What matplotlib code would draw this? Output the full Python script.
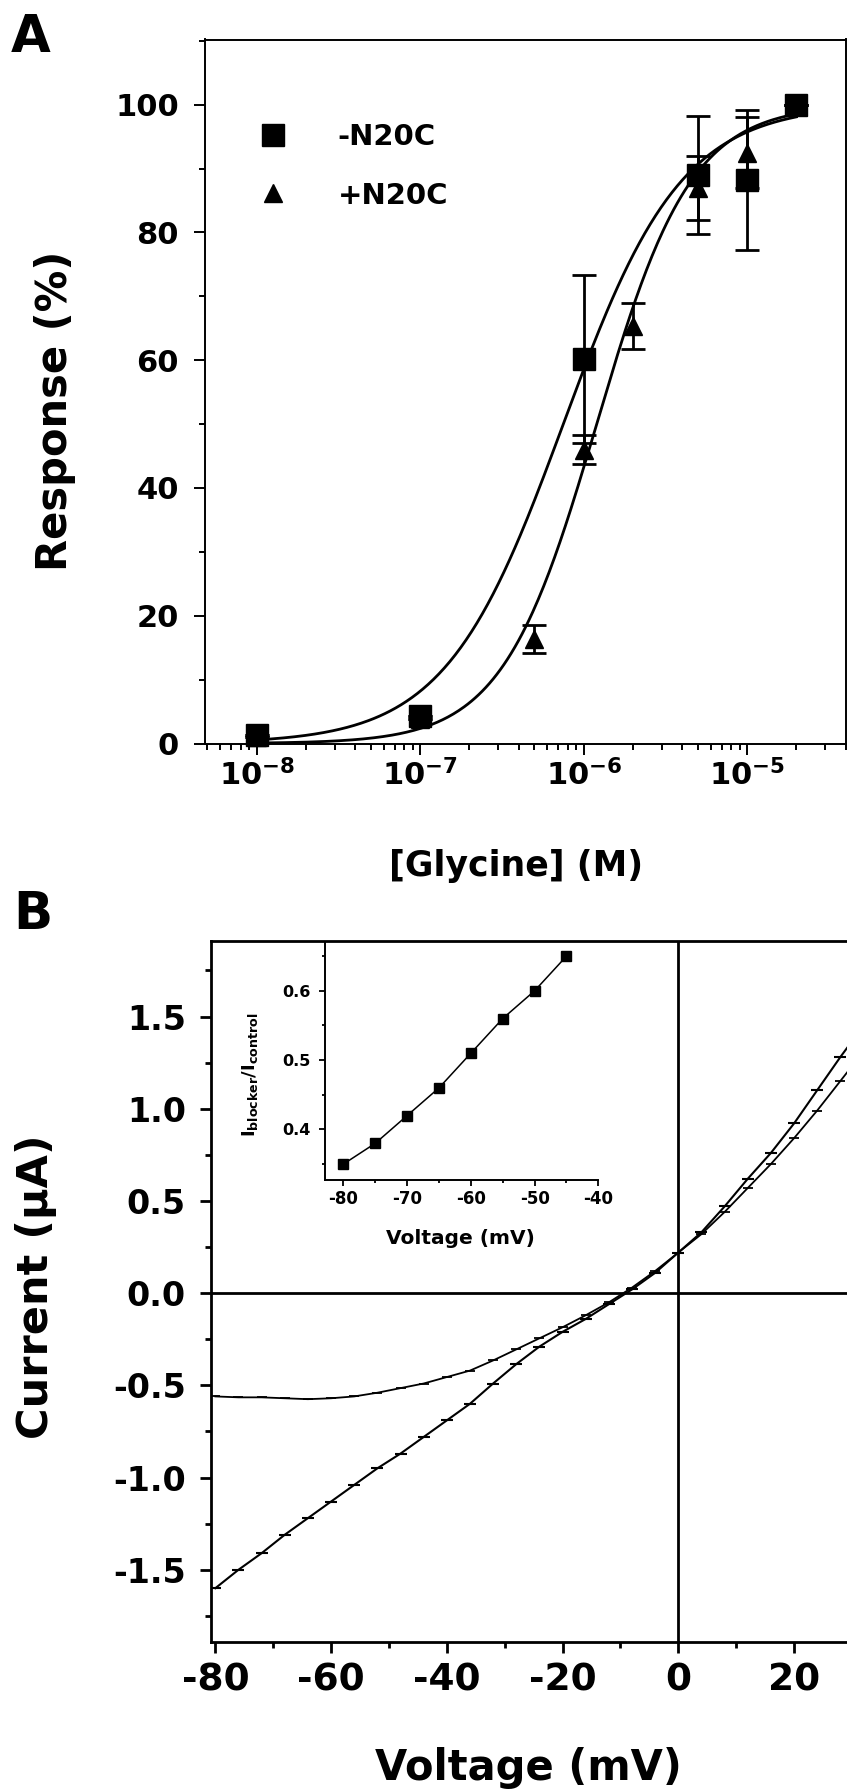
import matplotlib
matplotlib.use('Agg')
import matplotlib.pyplot as plt
import numpy as np
from matplotlib.ticker import FixedLocator, MultipleLocator, FormatStrFormatter, NullFormatter, LogLocator

plt.rcParams['font.family'] = ['DejaVu Sans']
plt.rcParams['font.weight'] = 'bold'
plt.rcParams['axes.labelweight'] = 'bold'
plt.rcParams['axes.unicode_minus'] = False
plt.rcParams['mathtext.default'] = 'bf'

W, H = 847, 1789

# ---- Panel A: glycine dose-response ----
GLY_MINUS = [1e-8, 1e-7, 1e-6, 5e-6, 1e-5, 2e-5]
RESP_MINUS = [1.3, 4.3, 60.2, 89.0, 88.2, 100.0]
ERR_MINUS = [0, 0, 13.2, 9.2, 11.0, 0]
GLY_PLUS = [1e-8, 1e-7, 5e-7, 1e-6, 2e-6, 5e-6, 1e-5, 2e-5]
RESP_PLUS = [1.0, 3.8, 16.3, 46.0, 65.3, 87.0, 92.5, 100.0]
ERR_PLUS = [0, 0, 2.2, 2.3, 3.6, 5.0, 5.5, 0]
# Hill fit parameters (EC50 [M], Hill coefficient)
FIT_MINUS = (0.75e-6, 1.2)
FIT_PLUS = (1.2e-6, 1.5)
A_XTICKS = [1e-8, 1e-7, 1e-6, 1e-5]
A_XTICKLABELS = [r'$10^{-8}$', r'$10^{-7}$', r'$10^{-6}$', r'$10^{-5}$']
A_YTICKS = [0, 20, 40, 60, 80, 100]

# ---- Panel B: I-V traces ----
VOLT = list(range(-80, 41, 4))
I_CONTROL = [-1.60, -1.50, -1.41, -1.31, -1.22, -1.13, -1.04, -0.95, -0.87, -0.78,
             -0.69, -0.60, -0.49, -0.385, -0.29, -0.21, -0.14, -0.06, 0.02, 0.11,
             0.22, 0.33, 0.47, 0.62, 0.76, 0.92, 1.10, 1.28, 1.45, 1.62, 1.80]
I_BLOCKED = [-0.56, -0.565, -0.565, -0.57, -0.575, -0.57, -0.56, -0.54, -0.515, -0.49,
             -0.455, -0.42, -0.365, -0.305, -0.245, -0.185, -0.12, -0.05, 0.03, 0.12,
             0.22, 0.32, 0.44, 0.57, 0.70, 0.84, 0.99, 1.15, 1.31, 1.47, 1.64]
INSET_V = [-80, -75, -70, -65, -60, -55, -50, -45]
INSET_RATIO = [0.35, 0.38, 0.42, 0.46, 0.51, 0.56, 0.60, 0.65]


def fig_rect(left, top, right, bottom):
    return [left / W, 1 - bottom / H, (right - left) / W, (bottom - top) / H]


def fig_pt(x, y):
    return x / W, 1 - y / H


def hill(x, ec50, n):
    return 100.0 / (1.0 + (ec50 / x) ** n)


fig = plt.figure(figsize=(W / 100, H / 100), dpi=100)

# ================= Panel A =================
ax = fig.add_axes(fig_rect(205.3, 39.5, 846, 743.5))
ax.set_xscale('log')
xs = np.logspace(-8, np.log10(2e-5), 300)
ax.plot(xs, hill(xs, *FIT_MINUS), color='black', lw=2.0, zorder=2)
ax.plot(xs, hill(xs, *FIT_PLUS), color='black', lw=2.0, zorder=2)

eb_plus = ax.errorbar(GLY_PLUS, RESP_PLUS, yerr=ERR_PLUS, fmt='^', color='black', ms=13,
                      capsize=8.3, elinewidth=2, capthick=2, zorder=3, clip_on=False)
eb_minus = ax.errorbar(GLY_MINUS, RESP_MINUS, yerr=ERR_MINUS, fmt='s', color='black', ms=16,
                       capsize=8.3, elinewidth=2, capthick=2, zorder=4, clip_on=False)

ax.set_xlim(10 ** -8.314, 10 ** -4.396)
ax.set_ylim(0, 110.2)
ax.xaxis.set_major_locator(FixedLocator(A_XTICKS))
ax.set_xticklabels(A_XTICKLABELS)
ax.xaxis.set_minor_locator(LogLocator(base=10, subs=np.arange(2, 10)))
ax.xaxis.set_minor_formatter(NullFormatter())
ax.set_yticks(A_YTICKS)
ax.yaxis.set_minor_locator(MultipleLocator(10))
for sp in ax.spines.values():
    sp.set_linewidth(1.4)
ax.tick_params(which='both', direction='out', top=False, right=False, width=1.4)
ax.tick_params(which='major', length=8, labelsize=22)
ax.tick_params(which='minor', length=4.5)
ax.tick_params(axis='y', which='major', pad=11)
ax.tick_params(axis='x', which='major', pad=3)

ax.legend([eb_minus.lines[0], eb_plus.lines[0]], ['-N20C', '+N20C'],
          loc='upper left', bbox_to_anchor=(0.0826, 0.881), frameon=False,
          borderpad=0, borderaxespad=0, handlelength=1.0, handletextpad=1.72,
          labelspacing=1.04, fontsize=21, numpoints=1)

ax.set_xlabel('[Glycine] (M)', fontsize=25, va='center')
ax.xaxis.set_label_coords(*fig_pt(516, 866), transform=fig.transFigure)
ax.set_ylabel('Response (%)', fontsize=30, va='center')
ax.yaxis.set_label_coords(*fig_pt(55, 411), transform=fig.transFigure)

fig.text(*fig_pt(11, 51.6), 'A', fontsize=37, fontweight='bold', ha='left', va='baseline')

# ================= Panel B =================
bx = fig.add_axes(fig_rect(210.7, 940.9, 849, 1641.7))
bx.axhline(0, color='black', lw=2, zorder=1)
bx.axvline(0, color='black', lw=2, zorder=1)
bx.plot(VOLT, I_BLOCKED, color='black', lw=1.3, marker='_', ms=7, mew=1.3, zorder=3)
bx.plot(VOLT, I_CONTROL, color='black', lw=1.5, marker='_', ms=9, mew=1.5, zorder=3)

bx.set_xlim(-80.8, 29.5)
bx.set_ylim(-1.89, 1.91)
bx.xaxis.set_major_locator(MultipleLocator(20))
bx.xaxis.set_minor_locator(MultipleLocator(10))
bx.xaxis.set_major_formatter(FormatStrFormatter('%d'))
bx.yaxis.set_major_locator(MultipleLocator(0.5))
bx.yaxis.set_minor_locator(MultipleLocator(0.25))
bx.yaxis.set_major_formatter(FormatStrFormatter('%.1f'))
for sp in bx.spines.values():
    sp.set_linewidth(2.0)
bx.tick_params(which='both', direction='out', top=False, right=False, width=2.0)
bx.tick_params(which='major', length=7.8)
bx.tick_params(which='minor', length=4.5)
bx.tick_params(axis='y', which='major', labelsize=24, pad=10)
bx.tick_params(axis='x', which='major', labelsize=27, pad=7)

bx.set_xlabel('Voltage (mV)', fontsize=30, va='center')
bx.xaxis.set_label_coords(*fig_pt(528, 1768), transform=fig.transFigure)
bx.set_ylabel('Current (\u03bcA)', fontsize=31, va='center')
bx.yaxis.set_label_coords(*fig_pt(36, 1287), transform=fig.transFigure)

fig.text(*fig_pt(13.5, 929.3), 'B', fontsize=37, fontweight='bold', ha='left', va='baseline')

# ---- inset ----
ix = fig.add_axes(fig_rect(325, 943, 598.3, 1180))
ix.plot(INSET_V, INSET_RATIO, color='black', lw=1.1, marker='s', ms=6.5)
ix.set_xlim(-82.9, -40)
ix.set_ylim(0.327, 0.669)
ix.spines['top'].set_visible(False)
ix.spines['right'].set_visible(False)
for side in ('left', 'bottom'):
    ix.spines[side].set_linewidth(1.4)
ix.xaxis.set_major_locator(MultipleLocator(10))
ix.xaxis.set_minor_locator(MultipleLocator(5))
ix.xaxis.set_major_formatter(FormatStrFormatter('%d'))
ix.yaxis.set_major_locator(FixedLocator([0.4, 0.5, 0.6]))
ix.yaxis.set_minor_locator(FixedLocator([0.35, 0.45, 0.55, 0.65]))
ix.yaxis.set_major_formatter(FormatStrFormatter('%.1f'))
ix.tick_params(which='both', direction='out', width=1.3)
ix.tick_params(which='major', length=4)
ix.tick_params(which='minor', length=2.5)
ix.tick_params(axis='y', which='major', labelsize=11.5, pad=6)
ix.tick_params(axis='x', which='major', labelsize=12, pad=3.5)
ix.set_xlabel('Voltage (mV)', fontsize=14.5, va='center')
ix.xaxis.set_label_coords(*fig_pt(460.5, 1238), transform=fig.transFigure)
ix.set_ylabel(r'$I_{blocker}/I_{control}$', fontsize=13, va='center')
ix.yaxis.set_label_coords(*fig_pt(250, 1075), transform=fig.transFigure)

fig.savefig('out.png', dpi=100)
